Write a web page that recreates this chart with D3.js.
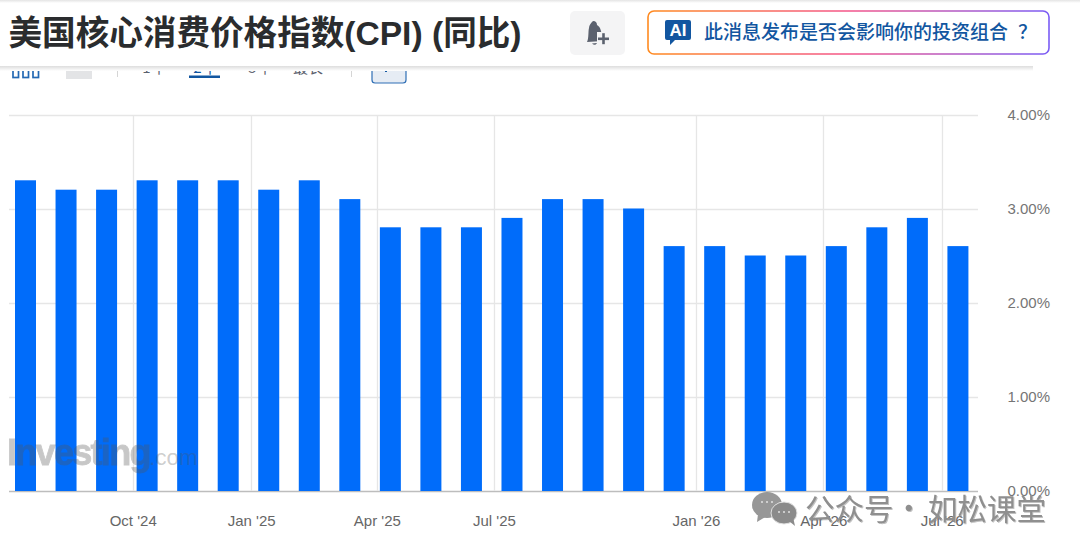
<!DOCTYPE html>
<html><head><meta charset="utf-8">
<style>html,body{margin:0;padding:0;background:#fff;overflow:hidden}svg{display:block}
</style>
<script src="https://cdnjs.cloudflare.com/ajax/libs/d3/7.8.5/d3.min.js"></script></head>
<body><svg id="c" width="1080" height="552"></svg>
<script>
const releaseDates = ["2024-07-11","2024-08-14","2024-09-11","2024-10-12","2024-11-13","2024-12-11","2025-01-17","2025-02-12","2025-03-12","2025-04-11","2025-05-13","2025-06-11","2025-07-17","2025-08-12","2025-09-11","2025-10-24","2025-12-18","2026-01-13","2026-02-13","2026-03-11","2026-04-11","2026-05-12","2026-06-10","2026-07-15"];
const coreCpi = [3.3,3.2,3.2,3.3,3.3,3.3,3.2,3.3,3.1,2.8,2.8,2.8,2.9,3.1,3.1,3.0,2.6,2.6,2.5,2.5,2.6,2.8,2.9,2.6];
const tickDates = ["2024-10-01","2025-01-01","2025-04-01","2025-07-01","2026-01-01","2026-04-01","2026-07-01"];
const tickLabels = ["Oct '24","Jan '25","Apr '25","Jul '25","Jan '26","Apr '26","Jul '26"];
const yTicks = [0,1,2,3,4];
const titleText = "美国核心消费价格指数(CPI) (同比)";
const promptText = "此消息发布是否会影响你的投资组合";
const promptMark = "？";
const rangeLabels = ["1年","2年","5年","最长"];
const watermarkLeft = "公众号";
const watermarkDot = "·";
const watermarkRight = "如松课堂";

const parse = d3.utcParse("%Y-%m-%d");
const dates = releaseDates.map(parse);
const svg = d3.select("#c");
const CJK = "'Noto Sans CJK SC','Liberation Sans',sans-serif";
const LAT = "'Liberation Sans',Arial,sans-serif";

const firstX = 25.5, step = 40.54, bw = 21;
// piecewise time scale: each release occupies one equal slot, as in the source chart
const x = d3.scaleUtc().domain(dates).range(dates.map((d,i)=>firstX+i*step));
const y = d3.scaleLinear().domain([0,4]).range([491,115]);

const defs = svg.append("defs");
const grad = defs.append("linearGradient").attr("id","bd");
[["0%","#ff8a1f"],["50%","#f4558a"],["100%","#7a5cf5"]].forEach(s=>grad.append("stop").attr("offset",s[0]).attr("stop-color",s[1]));
const sh = defs.append("linearGradient").attr("id","sh").attr("x1",0).attr("x2",0).attr("y1",0).attr("y2",1);
sh.append("stop").attr("offset","0%").attr("stop-color","#e4e4e4");
sh.append("stop").attr("offset","100%").attr("stop-color","#fff");
const sh2 = defs.append("linearGradient").attr("id","sh2").attr("x1",0).attr("x2",0).attr("y1",0).attr("y2",1);
sh2.append("stop").attr("offset","0%").attr("stop-color","#dddddd");
sh2.append("stop").attr("offset","100%").attr("stop-color","#fff");

// grid
const grid = svg.append("g");
grid.selectAll("line.h").data(yTicks).join("line").attr("class","h")
  .attr("x1",9).attr("x2",978).attr("y1",d=>y(d)+.5).attr("y2",d=>y(d)+.5)
  .attr("stroke",d=>d===0?"#bdbdbd":"#e6e6e6").attr("stroke-width",d=>d===0?1.5:1.3);
grid.selectAll("line.v").data(tickDates).join("line").attr("class","v")
  .attr("x1",d=>Math.round(x(parse(d)))+.5).attr("x2",d=>Math.round(x(parse(d)))+.5)
  .attr("y1",y(4)).attr("y2",y(0)).attr("stroke","#e6e6e6").attr("stroke-width",1.3);

// bars
svg.append("g").selectAll("rect").data(coreCpi).join("rect")
  .attr("x",(d,i)=>x(dates[i])-bw/2).attr("width",bw)
  .attr("y",d=>y(d)-.5).attr("height",d=>y(0)-y(d)+.5).attr("fill","#006cfa");

// axes labels
svg.append("g").selectAll("text").data(tickDates).join("text")
  .attr("x",d=>x(parse(d))+.5).attr("y",526).attr("text-anchor","middle")
  .attr("font-family",LAT).attr("font-size",15).attr("fill","#666")
  .text((d,i)=>tickLabels[i]);
svg.append("g").selectAll("text").data(yTicks).join("text")
  .attr("x",1050).attr("y",d=>y(d)+5).attr("text-anchor","end")
  .attr("font-family",LAT).attr("font-size",15).attr("fill","#757575")
  .text(d=>d3.format(".2f")(d)+"%");

// Investing watermark
const wm = svg.append("g").attr("font-family",LAT);
wm.append("text").attr("x",7).attr("y",465).attr("font-size",36).attr("font-weight",700)
  .attr("letter-spacing",-1.7).attr("fill","#555").attr("stroke","#555").attr("stroke-width",.8).attr("opacity",.32).text("Investing");
wm.append("text").attr("x",149).attr("y",465).attr("font-size",22.5)
  .attr("fill","#555").attr("fill-opacity",.3).text(".com");

// toolbar remnants beneath the header
const tb = svg.append("g");
[13,23,33].forEach(px=>tb.append("rect").attr("x",px).attr("y",60).attr("width",5.5).attr("height",17.5).attr("fill","none").attr("stroke","#2469b3").attr("stroke-width",1.7));
tb.append("rect").attr("x",66).attr("y",60).attr("width",26).attr("height",19).attr("fill","#e3e4e6");
tb.append("rect").attr("x",117).attr("y",60).attr("width",1).attr("height",17).attr("fill","#d5d5d5");
tb.append("rect").attr("x",351).attr("y",60).attr("width",1).attr("height",17).attr("fill","#d5d5d5");
tb.selectAll("text").data(rangeLabels).join("text")
  .attr("x",(d,i)=>[154,205,260,308][i]).attr("y",73).attr("text-anchor","middle")
  .attr("font-family",CJK).attr("font-size",15).attr("fill",(d,i)=>i===1?"#1256a0":"#5b616e").text(d=>d);
tb.append("rect").attr("x",189).attr("y",75.5).attr("width",31).attr("height",2.5).attr("fill","#1256a0");
tb.append("rect").attr("x",372).attr("y",55).attr("width",34).attr("height",28).attr("rx",3).attr("fill","#e6ecf4").attr("stroke","#2f6fb5").attr("stroke-width",1.2);
tb.append("rect").attr("x",385).attr("y",62).attr("width",2).attr("height",10).attr("fill","#1256a0");

// header
const hd = svg.append("g");
hd.append("rect").attr("x",0).attr("y",0).attr("width",1080).attr("height",66).attr("fill","#fff");
hd.append("rect").attr("x",0).attr("y",0).attr("width",1080).attr("height",3).attr("fill","url(#sh)");
hd.append("rect").attr("x",0).attr("y",66).attr("width",1033).attr("height",5).attr("fill","url(#sh2)");
hd.append("text").attr("x",8.5).attr("y",45).attr("font-family",LAT+",'Noto Sans CJK SC'").attr("font-weight",700).attr("font-size",33.6).attr("fill","#2a2c2e").text(titleText);
hd.append("rect").attr("x",570).attr("y",11).attr("width",55).attr("height",44).attr("rx",5).attr("fill","#f4f4f5");
const bell = hd.append("g").attr("fill","#5b616e");
bell.append("path").attr("d","M593 21 C596 21 597 23 597 25 C601 27 601 32 602 35 L603 41 L587 42 C589 38 588 32 589 28 C589 25 591 23 593 21Z");
bell.append("path").attr("d","M592 43.5 L597 43 C596 45 594 45.5 592 43.5Z");
bell.append("rect").attr("x",597).attr("y",32).attr("width",14).attr("height",14).attr("fill","#f4f4f5");
bell.append("rect").attr("x",598).attr("y",37.5).attr("width",11).attr("height",2.6);
bell.append("rect").attr("x",602.2).attr("y",33.2).attr("width",2.6).attr("height",11);
hd.append("rect").attr("x",648).attr("y",11).attr("width",401).attr("height",43).attr("rx",6).attr("fill","#fff").attr("stroke","url(#bd)").attr("stroke-width",1.6);
hd.append("path").attr("fill","#1256a0").attr("d","M667 20h22a2 2 0 0 1 2 2v16a2 2 0 0 1-2 2h-14l-5 5v-5h-3a2 2 0 0 1-2-2v-16a2 2 0 0 1 2-2z");
hd.append("text").attr("x",678).attr("y",36).attr("text-anchor","middle").attr("font-family",LAT).attr("font-weight",700).attr("font-size",17).attr("fill","#fff").text("AI");
const pr = hd.append("text").attr("x",704).attr("y",39).attr("font-family",CJK).attr("font-weight",500).attr("font-size",19).attr("fill","#1256a0");
pr.append("tspan").text(promptText);
pr.append("tspan").attr("dx",10).text(promptMark);

// WeChat watermark
const wc = svg.append("g");
const icon = wc.append("g").attr("opacity",.85);
icon.append("ellipse").attr("cx",767).attr("cy",505).attr("rx",15).attr("ry",13).attr("fill","#858585");
icon.append("path").attr("d","M758 514 L757 522 L767 516Z").attr("fill","#858585");
icon.append("ellipse").attr("cx",784).attr("cy",513).attr("rx",13).attr("ry",11).attr("fill","#777").attr("stroke","#ddd").attr("stroke-width",1);
icon.append("path").attr("d","M789 521 L795 526 L793 517Z").attr("fill","#777");
[-5,0,5].forEach(o=>{icon.append("circle").attr("cx",767+o).attr("cy",502).attr("r",1).attr("fill","#ddd");icon.append("circle").attr("cx",784+o).attr("cy",512).attr("r",1).attr("fill","#ddd");});
const wt = wc.append("g").attr("font-family",CJK).attr("font-size",29.5).attr("font-weight",400).attr("fill","#8f8f8f").style("filter","drop-shadow(1px 1px 0 rgba(120,120,120,.45))");
wt.append("text").attr("x",805).attr("y",520).text(watermarkLeft);
wt.append("text").attr("x",894).attr("y",519).text(watermarkDot);
wt.append("text").attr("x",928).attr("y",520).text(watermarkRight);
</script></body></html>
